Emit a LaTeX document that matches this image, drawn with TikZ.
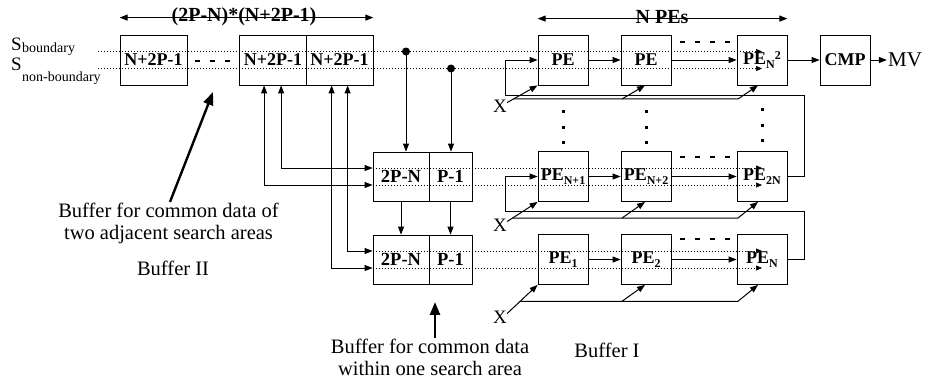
\documentclass[tikz,border=0pt]{standalone}
\usepackage{fontspec}
\setmainfont{Liberation Serif}
\usetikzlibrary{arrows.meta,calc}

% PE label with a lowered index
\newcommand\pesub[1]{\textbf{PE}\raisebox{-4.5pt}{\fontsize{12}{12}\selectfont\textbf{#1}}}

\begin{document}
\begin{tikzpicture}[x=1pt,y=-1pt,
  cell/.style={draw, line width=0.8pt, minimum width=#1, minimum height=50pt,
    inner sep=0pt, font=\bfseries\fontsize{18}{18}\selectfont},
  mcell/.style={draw, line width=0.8pt, minimum width=#1, minimum height=49pt,
    inner sep=0pt, font=\bfseries\fontsize{18.5}{18.5}\selectfont},
  pebox/.style={draw, line width=0.8pt, minimum width=50pt, minimum height=50pt,
    inner sep=0pt, font=\fontsize{18}{18}\selectfont},
  arr/.style={line width=1pt, -{Triangle[length=8pt,width=6pt]}},
  both/.style={line width=1pt, {Triangle[length=8pt,width=6pt]}-{Triangle[length=8pt,width=6pt]}},
  dotline/.style={line width=0.6pt, dash pattern=on 1pt off 2pt,
    -{Triangle[length=6pt,width=5pt]}},
  bigarrow/.style={line width=2.4pt, -{Triangle[length=13pt,width=10pt]}},
  hdash/.style={line width=2.6pt, dash pattern=on 5pt off 10pt},
  vdots/.style={line width=3pt, dash pattern=on 3pt off 12.5pt},
  note/.style={font=\fontsize{20.5}{22}\selectfont, align=center, inner sep=1pt},
  title/.style={font=\bfseries\fontsize{20}{20}\selectfont, inner sep=0pt},
  xlab/.style={font=\fontsize{19}{19}\selectfont, inner sep=0pt}]

\useasboundingbox (0,0) rectangle (941,386);

% ---- Buffer II: row of search-area columns ----
\node[cell=67pt] (b1) at (153.5,60) {N+2P-1};
\node[cell=67pt] (b2) at (273,60) {N+2P-1};
\node[cell=67pt] (b3) at (339.5,60) {N+2P-1};
\draw[hdash] (195,61) -- (231,61);

% ---- common data buffers ----
\node[mcell=56pt] (m1) at (401,176.5) {2P-N};
\node[mcell=43pt] (m2) at (450.5,176.5) {P-1};
\node[mcell=56pt] (m3) at (401,259.5) {2P-N};
\node[mcell=43pt] (m4) at (450.5,259.5) {P-1};

% ---- PE array ----
\node[pebox] (pe11) at (563,60) {\textbf{PE}};
\node[pebox] (pe12) at (646,60) {\textbf{PE}};
\node[pebox] (pe13) at (762,60) {\textbf{PE}\raisebox{-4.5pt}{\fontsize{12}{12}\selectfont\textbf{N}}\raisebox{5pt}{\fontsize{12}{12}\selectfont\textbf{2}}};
\node[pebox] (cmp) at (845,60) {\textbf{CMP}};
\node[font=\fontsize{21}{21}\selectfont, inner sep=1pt] (mv) at (905,60) {MV};

\node[pebox] (pe21) at (563,176.5) {\pesub{N+1}};
\node[pebox] (pe22) at (646,176.5) {\pesub{N+2}};
\node[pebox] (pe23) at (762,176.5) {\pesub{2N}};

\node[pebox] (pe31) at (563,259.5) {\pesub{1}};
\node[pebox] (pe32) at (646,259.5) {\pesub{2}};
\node[pebox] (pe33) at (762,259.5) {\pesub{N}};

% ---- search-line labels ----
\node[anchor=base west, inner sep=0pt, font=\fontsize{19}{19}\selectfont] (s1) at (11,50) {S};
\node[anchor=base west, inner sep=0pt, font=\fontsize{14}{14}\selectfont] (s1b) at ([yshift=-2.5pt]s1.base east) {boundary};
\node[anchor=base west, inner sep=0pt, font=\fontsize{19}{19}\selectfont] (s2) at (11,70.5) {S};
\node[anchor=base west, inner sep=0pt, font=\fontsize{14}{14}\selectfont] (s2b) at ([yshift=-10.5pt]s2.base east) {non-boundary};

% ---- dotted data lines ----
\coordinate (sb) at (98,51.5);
\coordinate (sn) at (98,68.5);
\draw[dotline] (sb) -- ([yshift=8.5pt]pe13.center);
\draw[dotline] (sn) -- ([yshift=-8.5pt]pe13.center);
\draw[dotline] ([yshift=8.5pt]m1.west) -- ([yshift=8.5pt]pe23.center);
\draw[dotline] ([yshift=-8.5pt]m1.west) -- ([yshift=-8.5pt]pe23.center);
\draw[dotline] ([yshift=8.5pt]m3.west) -- ([yshift=8.5pt]pe33.center);
\draw[dotline] ([yshift=-8.5pt]m3.west) -- ([yshift=-8.5pt]pe33.center);

% ---- span arrows ----
\draw[both] ([yshift=17pt]b1.north west) -- ([yshift=17pt]b3.north east);
\node[title] (span1) at (244,17) {(2P-N)*(N+2P-1)};
\draw[both] ([yshift=16pt]pe11.north west) -- ([yshift=16pt]pe13.north east);
\node[title] (span2) at (662,17) {N PEs};

% ---- taps from the search lines ----
\coordinate (t1) at (406,51.5);
\coordinate (t2) at (451,68.5);
\fill (t1) circle (4pt);
\fill (t2) circle (4pt);
\draw[arr] (t1) -- (t1 |- m1.north);
\draw[arr] (t2) -- (t2 |- m2.north);
\draw[arr] (m1.south) -- (m3.north);
\draw[arr] (m2.south) -- (m4.north);

% ---- exchange between Buffer II and the common buffers ----
\draw[both] ([xshift=25pt]b2.south west) |- ([yshift=-8.5pt]m1.west);
\draw[both] ([xshift=42pt]b2.south west) |- ([yshift=8.5pt]m1.west);
\draw[both] ([xshift=26pt]b3.south west) |- ([yshift=-8.5pt]m3.west);
\draw[both] ([xshift=42pt]b3.south west) |- ([yshift=8.5pt]m3.west);

% ---- PE chains ----
\draw[arr] (pe11) -- (pe12);
\draw[arr] (pe12) -- (pe13);
\draw[arr] (pe13) -- (cmp);
\draw[arr] (cmp) -- (mv);
\draw[arr] (pe21) -- (pe22);
\draw[arr] (pe22) -- (pe23);
\draw[arr] (pe31) -- (pe32);
\draw[arr] (pe32) -- (pe33);

\draw[hdash] (680,42) -- (731,42);
\draw[hdash] (680,157) -- (731,157);
\draw[hdash] (680,239) -- (731,239);

\draw[vdots] (563,110) -- (563,146);
\draw[vdots] (646,110) -- (646,146);
\draw[vdots] (762,108) -- (762,144);

% ---- row feedback loops ----
\draw[arr] (pe23.east) -- (804,176.5) -- (804,95) -- (505,95) -- (505,60) -- (pe11.west);
\draw[arr] (pe33.east) -- (804,259.5) -- (804,211) -- (505,211) -- (505,176.5) -- (pe21.west);

% ---- current block inputs X ----
\coordinate (kx1) at (738,0);
\coordinate (kx2) at (622,0);

\node[xlab] (x1) at (500,106) {X};
\coordinate (xd1) at ([yshift=-3pt]x1.north east);
\coordinate (j1) at ($(xd1)!0.21!(pe11.south west)$);
\draw[arr] (xd1) -- (pe11.south west);
\draw[arr] (j1) -- (j1 -| kx1) -- ([xshift=-4pt]pe13.south);
\draw[arr] (j1 -| kx2) -- ([xshift=-1pt]pe12.south);

\node[xlab] (x2) at (500,225) {X};
\coordinate (xd2) at ([yshift=-3pt]x2.north east);
\coordinate (j2) at ($(xd2)!0.18!(pe21.south west)$);
\draw[arr] (xd2) -- (pe21.south west);
\draw[arr] (j2) -- (j2 -| kx1) -- ([xshift=-4pt]pe23.south);
\draw[arr] (j2 -| kx2) -- ([xshift=-1pt]pe22.south);

\node[xlab] (x3) at (500,317) {X};
\coordinate (xd3) at ([yshift=-3pt]x3.north east);
\coordinate (j3) at ($(xd3)!0.43!(pe31.south west)$);
\draw[arr] (xd3) -- (pe31.south west);
\draw[arr] (j3) -- (j3 -| kx1) -- ([xshift=-4pt]pe33.south);
\draw[arr] (j3 -| kx2) -- ([xshift=-1pt]pe32.south);

% ---- annotations ----
\node[note] (buf2txt) at (168.5,223.5) {Buffer for common data of\\two adjacent search areas};
\node[note] (buf2) at (173,268) {Buffer II};
\draw[bigarrow] ([xshift=1.5pt]buf2txt.north) -- (213,92);

\node[note] (bufwtxt) at (430,357.5) {Buffer for common data\\within one search area};
\draw[bigarrow] ([xshift=5pt]bufwtxt.north) -- ++(0,-36);

\node[note] (buf1) at (607,350) {Buffer I};
\end{tikzpicture}
\end{document}
